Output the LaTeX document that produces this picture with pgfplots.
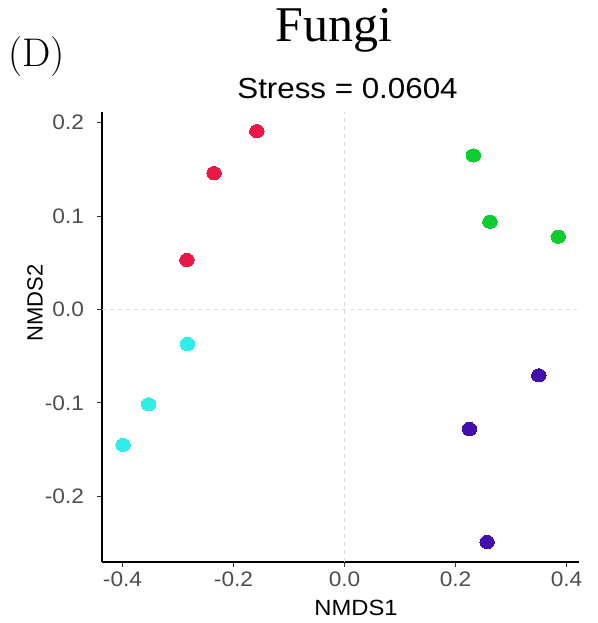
\documentclass[border=0pt]{standalone}
\usepackage{pgfplots}
\pgfplotsset{compat=1.18}
\usepackage{fontspec}
\newfontfamily\axfont[FakeStretch=1.08]{Liberation Sans}
\newfontfamily\labfont{Liberation Sans}
\newfontfamily\titfont{Liberation Serif}
\definecolor{ptred}{HTML}{E91946}
\definecolor{ptcyan}{HTML}{2FEDE7}
\definecolor{ptgreen}{HTML}{0ECD2F}
\definecolor{ptpurple}{HTML}{420FAD}
\definecolor{grey30}{HTML}{4D4D4D}
\definecolor{grey20}{HTML}{333333}
\definecolor{zerol}{HTML}{D9D9D9}
\begin{document}
\begin{tikzpicture}[x=1pt,y=1pt]
\useasboundingbox (0,0) rectangle (597,623);
\begin{axis}[
  at={(101.7pt,60.7pt)}, anchor=south west,
  scale only axis, width=477.6pt, height=450.6pt,
  xmin=-0.4375, xmax=0.423, ymin=-0.2707, ymax=0.2118,
  axis x line=bottom, axis y line=left,
  axis line style={-, black, line width=2pt},
  every outer x axis line/.append style={-, black, line width=2pt},
  every outer y axis line/.append style={-, black, line width=2pt},
  tick align=outside, major tick length=4.5pt,
  tick style={grey20, line width=1pt},
  xtick={-0.4,-0.2,0,0.2,0.4},
  xticklabels={-0.4,-0.2,0.0,0.2,0.4},
  ytick={-0.2,-0.1,0,0.1,0.2},
  yticklabels={-0.2,-0.1,0.0,0.1,0.2},
  xticklabel style={font={\axfont\fontsize{21}{25}\selectfont}, text=grey30, inner sep=0pt, anchor=north, yshift=-4.5pt},
  yticklabel style={font={\axfont\fontsize{21}{25}\selectfont}, text=grey30, inner sep=0pt, anchor=east, xshift=-13pt},
  clip=false,
]
\addplot[draw=zerol, line width=0.9pt, dash pattern=on 4pt off 4pt, forget plot] coordinates {(0,-0.2707) (0,0.2118)};
\addplot[draw=zerol, line width=0.9pt, dash pattern=on 4pt off 4pt, forget plot] coordinates {(-0.4375,0) (0.418,0)};
\addplot[color=ptred, only marks, mark=*, mark size=6.6pt, mark options={draw=ptred, fill=ptred, line width=0pt, xscale=1.1}] coordinates {(-0.158,0.191) (-0.235,0.146) (-0.284,0.053)};
\addplot[color=ptcyan, only marks, mark=*, mark size=6.6pt, mark options={draw=ptcyan, fill=ptcyan, line width=0pt, xscale=1.1}] coordinates {(-0.283,-0.037) (-0.353,-0.1015) (-0.399,-0.145)};
\addplot[color=ptgreen, only marks, mark=*, mark size=6.6pt, mark options={draw=ptgreen, fill=ptgreen, line width=0pt, xscale=1.1}] coordinates {(0.232,0.165) (0.262,0.094) (0.385,0.078)};
\addplot[color=ptpurple, only marks, mark=*, mark size=6.6pt, mark options={draw=ptpurple, fill=ptpurple, line width=0pt, xscale=1.1}] coordinates {(0.350,-0.0705) (0.225,-0.128) (0.257,-0.249)};
\end{axis}
\node[anchor=base, inner sep=0pt, font={\titfont\fontsize{50}{56}\selectfont}] at (334,581.3) {Fungi};
\node[anchor=base west, inner sep=0pt, font=\fontsize{40}{48}\selectfont] at (8,556.3) {(D)};
\node[anchor=base, inner sep=0pt, font={\axfont\fontsize{29}{34}\selectfont}] at (347.5,524.7) {Stress = 0.0604};
\node[anchor=base, inner sep=0pt, font={\axfont\fontsize{22}{26}\selectfont}] at (356,8) {NMDS1};
\node[rotate=90, anchor=center, inner sep=0pt, font={\labfont\fontsize{22}{26}\selectfont}] at (35,320) {NMDS2};
\node[overlay, anchor=base west, inner sep=0pt, font=\fontsize{40}{48}\selectfont] at (18,-32) {(E)};
\end{tikzpicture}
\end{document}
